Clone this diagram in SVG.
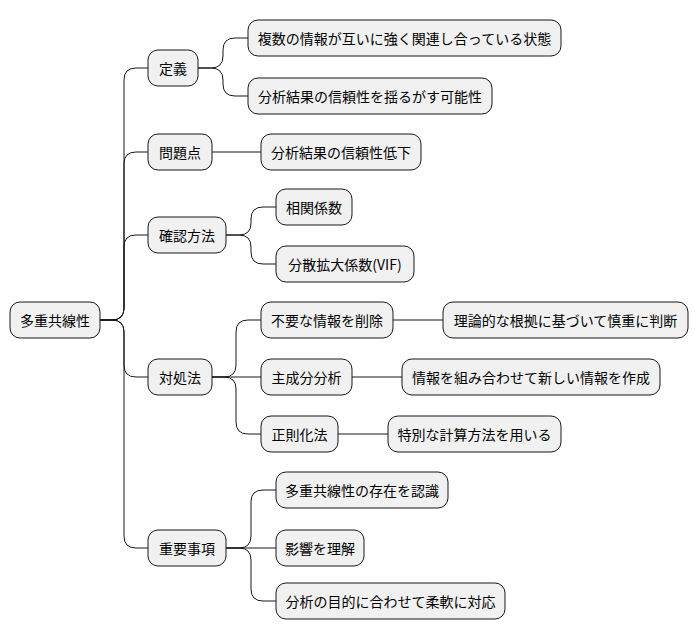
<svg xmlns="http://www.w3.org/2000/svg" width="698" height="640" viewBox="0 0 698 640">
<style>
.n rect{fill:#F1F1F1;stroke:#181818;stroke-width:1}
.n text{font-family:"Noto Sans CJK JP","Liberation Sans",sans-serif;font-size:14px;fill:#000;dominant-baseline:central}
#c path{fill:none;stroke:#181818;stroke-width:1}
</style>
<rect width="698" height="640" fill="#fff"/>
<g id="c">
<path d="M100,320 H112 Q124,320 124,308 V80 Q124,68 136,68 H148"/>
<path d="M100,320 H112 Q124,320 124,308 V164 Q124,152 136,152 H148"/>
<path d="M100,320 H112 Q124,320 124,308 V247 Q124,235 136,235 H148"/>
<path d="M100,320 H112 Q124,320 124,332 V365 Q124,377 136,377 H148"/>
<path d="M100,320 H112 Q124,320 124,332 V536 Q124,548 136,548 H148"/>
<path d="M198,68 H211 Q223,68 223,56 V50 Q223,38 235,38 H248"/>
<path d="M198,68 H211 Q223,68 223,80 V84 Q223,96 235,96 H248"/>
<path d="M212,152 H261"/>
<path d="M226,235 H239 Q251,235 251,223 V219 Q251,207 263,207 H276"/>
<path d="M226,235 H239 Q251,235 251,247 V252 Q251,264 263,264 H276"/>
<path d="M212,377 H224 Q236,377 236,365 V332 Q236,320 248,320 H261"/>
<path d="M212,377 H261"/>
<path d="M212,377 H224 Q236,377 236,389 V422 Q236,434 248,434 H261"/>
<path d="M393,320 H443"/>
<path d="M352,377 H402"/>
<path d="M338,434 H388"/>
<path d="M226,548 H239 Q251,548 251,536 V502 Q251,490 263,490 H276"/>
<path d="M226,548 H276"/>
<path d="M226,548 H239 Q251,548 251,560 V589 Q251,601 263,601 H276"/>
</g>
<g id="root" class="n"><rect x="10" y="302" width="90" height="36" rx="10"/><text x="55" y="320" text-anchor="middle">多重共線性</text></g>
<g id="n1" class="n"><rect x="148" y="50" width="50" height="36" rx="10"/><text x="173" y="68" text-anchor="middle">定義</text></g>
<g id="n1a" class="n"><rect x="248" y="20" width="313" height="36" rx="10"/><text x="404.5" y="38" text-anchor="middle">複数の情報が互いに強く関連し合っている状態</text></g>
<g id="n1b" class="n"><rect x="248" y="78" width="244" height="36" rx="10"/><text x="370" y="96" text-anchor="middle">分析結果の信頼性を揺るがす可能性</text></g>
<g id="n2" class="n"><rect x="148" y="134" width="64" height="36" rx="10"/><text x="180" y="152" text-anchor="middle">問題点</text></g>
<g id="n2a" class="n"><rect x="261" y="134" width="160" height="36" rx="10"/><text x="341" y="152" text-anchor="middle">分析結果の信頼性低下</text></g>
<g id="n3" class="n"><rect x="148" y="217" width="78" height="36" rx="10"/><text x="187" y="235" text-anchor="middle">確認方法</text></g>
<g id="n3a" class="n"><rect x="276" y="189" width="76" height="36" rx="10"/><text x="314" y="207" text-anchor="middle">相関係数</text></g>
<g id="n3b" class="n"><rect x="276" y="246" width="138" height="36" rx="10"/><text x="345" y="264" text-anchor="middle">分散拡大係数(VIF)</text></g>
<g id="n4" class="n"><rect x="148" y="359" width="64" height="36" rx="10"/><text x="180" y="377" text-anchor="middle">対処法</text></g>
<g id="n4a" class="n"><rect x="261" y="302" width="132" height="36" rx="10"/><text x="327" y="320" text-anchor="middle">不要な情報を削除</text></g>
<g id="n4a1" class="n"><rect x="443" y="302" width="245" height="36" rx="10"/><text x="565.5" y="320" text-anchor="middle">理論的な根拠に基づいて慎重に判断</text></g>
<g id="n4b" class="n"><rect x="261" y="359" width="91" height="36" rx="10"/><text x="306.5" y="377" text-anchor="middle">主成分分析</text></g>
<g id="n4b1" class="n"><rect x="402" y="359" width="258" height="36" rx="10"/><text x="531" y="377" text-anchor="middle">情報を組み合わせて新しい情報を作成</text></g>
<g id="n4c" class="n"><rect x="261" y="416" width="77" height="36" rx="10"/><text x="299.5" y="434" text-anchor="middle">正則化法</text></g>
<g id="n4c1" class="n"><rect x="388" y="416" width="173" height="36" rx="10"/><text x="474.5" y="434" text-anchor="middle">特別な計算方法を用いる</text></g>
<g id="n5" class="n"><rect x="148" y="530" width="78" height="36" rx="10"/><text x="187" y="548" text-anchor="middle">重要事項</text></g>
<g id="n5a" class="n"><rect x="276" y="472" width="172" height="36" rx="10"/><text x="362" y="490" text-anchor="middle">多重共線性の存在を認識</text></g>
<g id="n5b" class="n"><rect x="276" y="530" width="88" height="36" rx="10"/><text x="320" y="548" text-anchor="middle">影響を理解</text></g>
<g id="n5c" class="n"><rect x="276" y="583" width="229" height="36" rx="10"/><text x="390.5" y="601" text-anchor="middle">分析の目的に合わせて柔軟に対応</text></g>
</svg>
